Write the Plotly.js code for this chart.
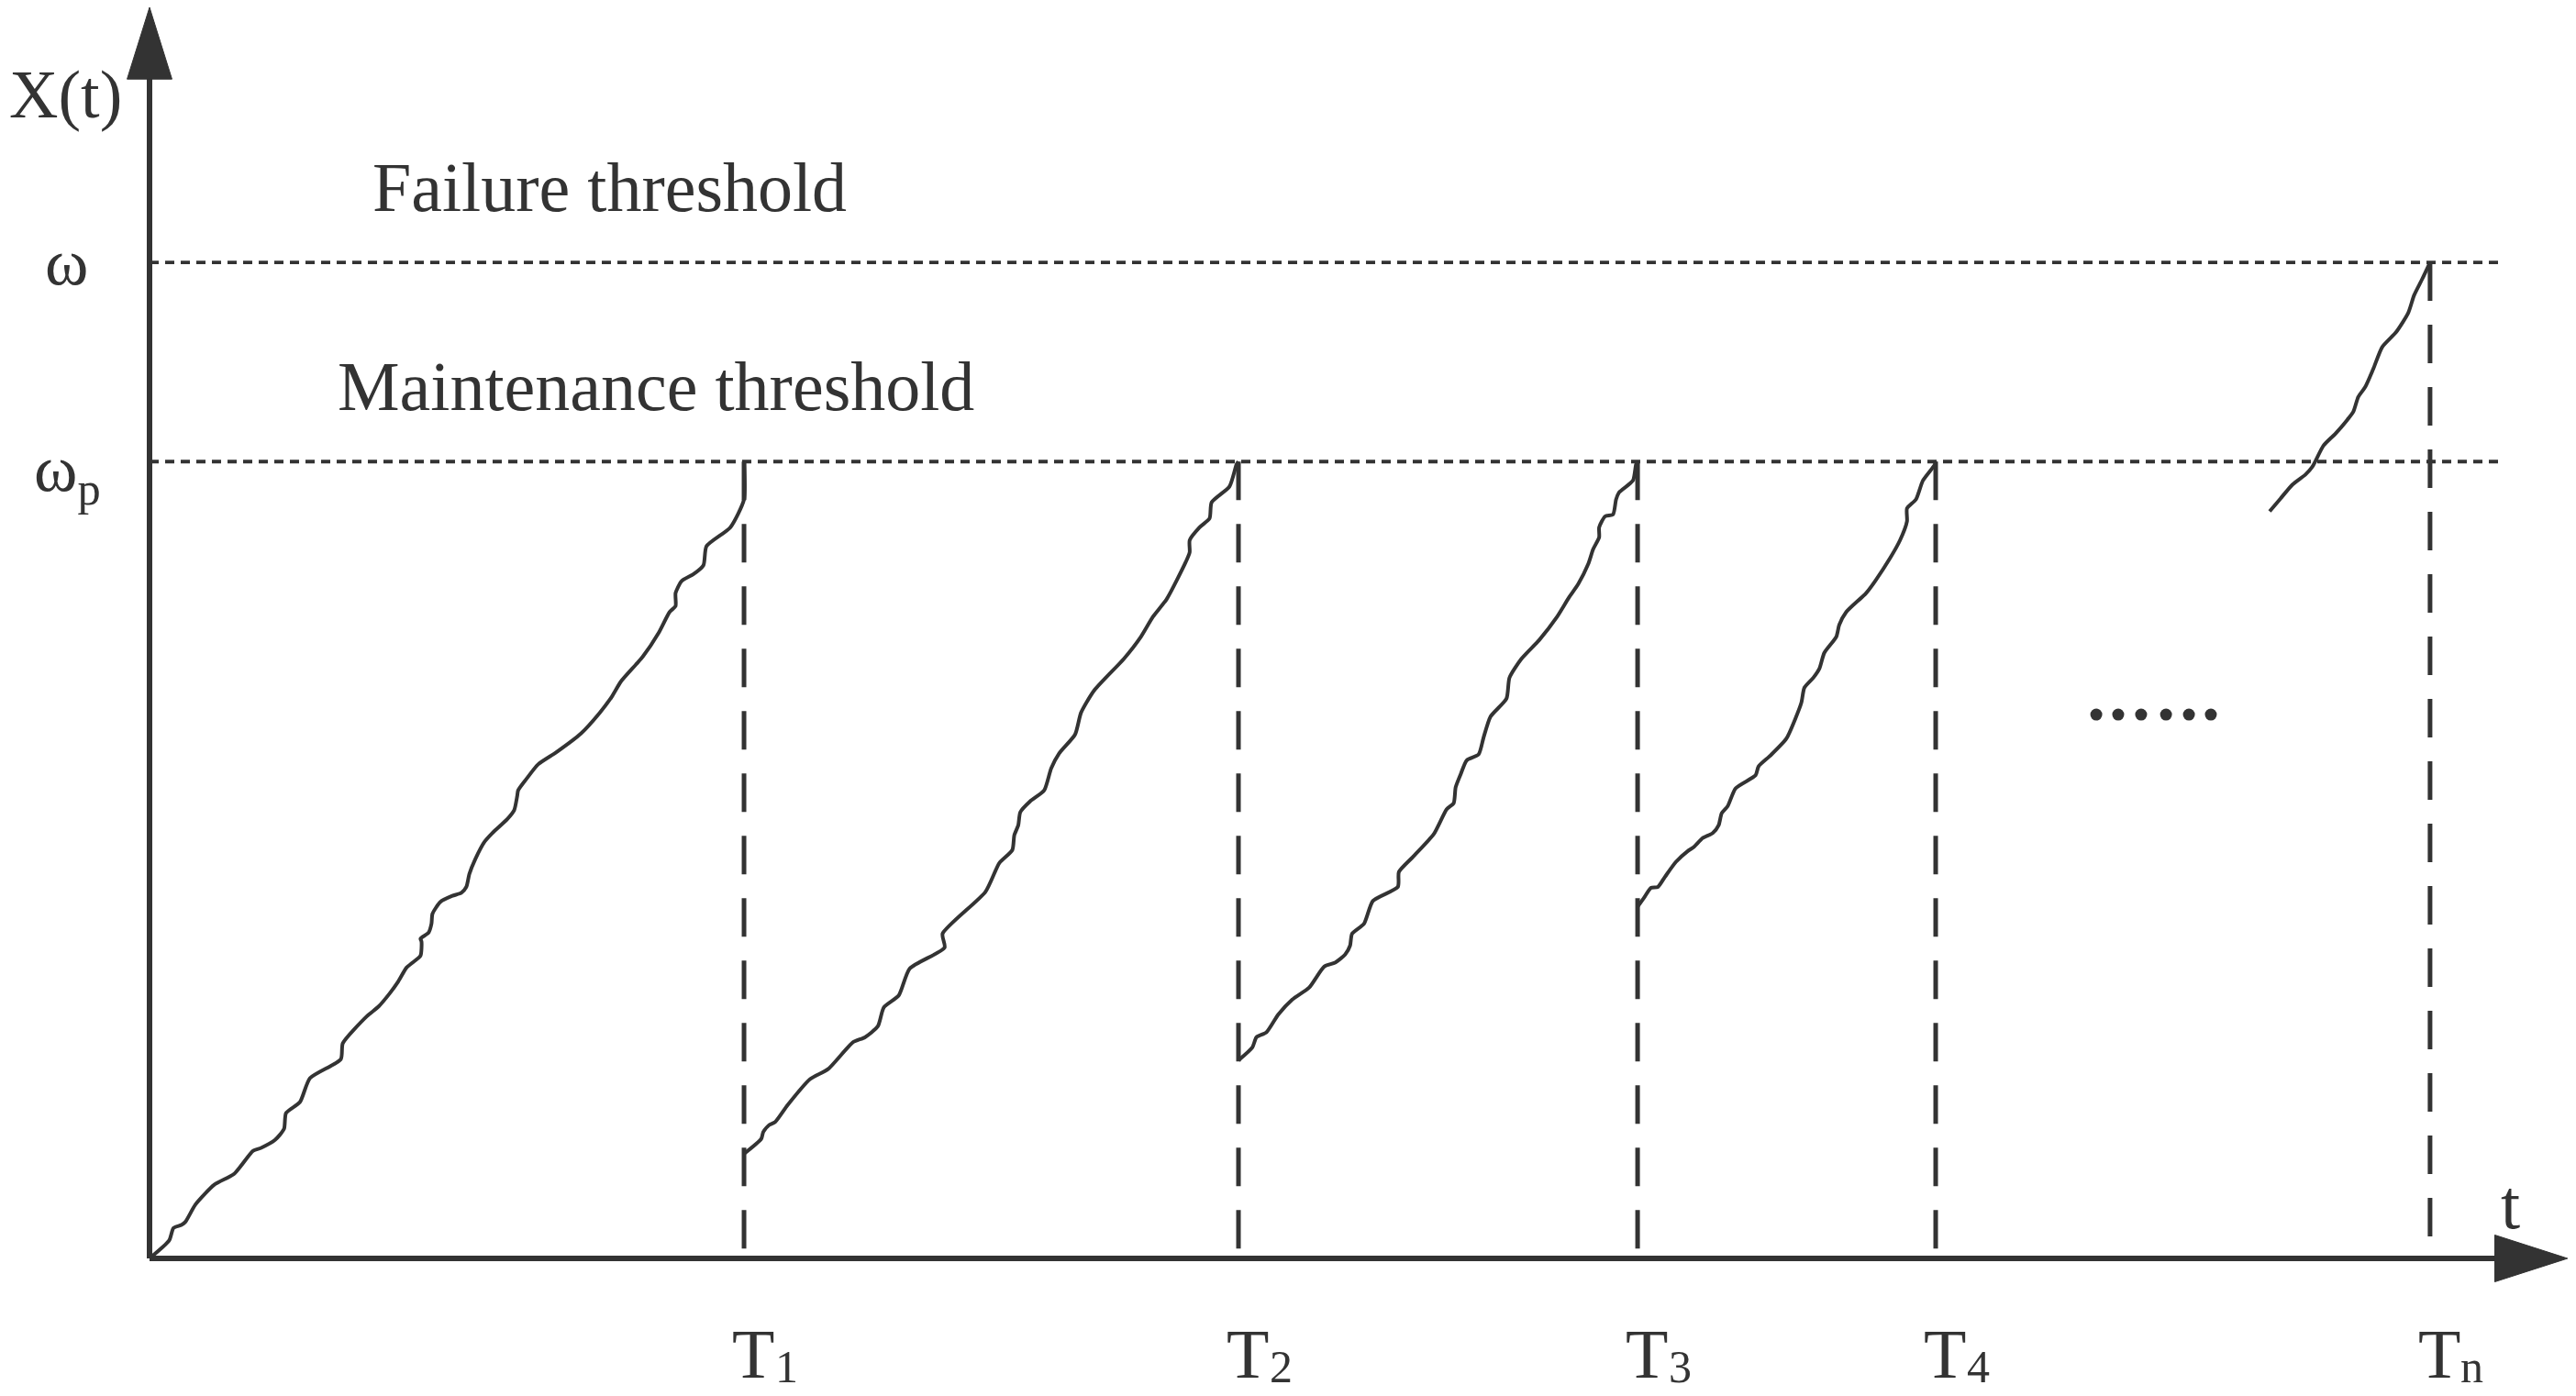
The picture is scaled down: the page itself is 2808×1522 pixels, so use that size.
<!DOCTYPE html>
<html>
<head>
<meta charset="utf-8">
<script src="https://cdn.plot.ly/plotly-3.0.1.min.js"></script>
<style>html,body{margin:0;padding:0;background:#fff;}#chart{width:2808px;height:1522px;}</style>
</head>
<body>
<div id="chart"></div>
<script>
// ---- data (t in arbitrary time units, X(t) in % of failure threshold) ----
var omega = 100;          // failure threshold
var omegaP = 80;          // maintenance threshold
var maintTimes = [59.67, 109.3, 149.36, 179.28];   // T1..T4
var failTime = 228.9;                              // Tn
var tickLabelMain = 'T';
var tickSubscripts = ['1', '2', '3', '4', 'n'];

var t1 = [0, 1.97, 2.4, 3.2, 3.6, 4.6, 6.5, 8.5, 10.4, 11.2, 12.6, 13.5, 13.7, 15.1, 16.1, 19.2, 19.4, 21.8, 23.0, 24.1, 24.9, 25.8, 26.4, 27.2, 27.3, 27.2, 28.0, 28.3, 28.4, 29.2, 30.4, 31.3, 31.8, 32.1, 32.7, 33.6, 34.4, 35.9, 36.6, 36.9, 37.0, 37.8, 39.0, 40.8, 43.3, 45.2, 46.4, 47.3, 48.8, 49.5, 51.1, 52.2, 52.8, 52.8, 53.4, 54.6, 55.6, 55.9, 58.3, 59.67, 59.67];
var x1 = [0, 1.8, 3.05, 3.36, 3.67, 5.4, 7.4, 8.5, 10.8, 11.1, 11.9, 13.0, 14.6, 15.7, 18.1, 20.0, 21.6, 24.3, 25.3, 26.6, 27.7, 29.2, 29.7, 30.4, 31.8, 32.1, 32.7, 33.6, 34.6, 35.8, 36.4, 36.7, 37.3, 38.6, 40.1, 41.8, 42.7, 44.1, 45.0, 46.4, 47.0, 48.1, 49.6, 50.8, 52.7, 54.8, 56.4, 57.9, 59.6, 60.4, 62.8, 64.9, 65.5, 66.8, 68.0, 68.7, 69.6, 71.5, 73.4, 76.2, 80];

var t2 = [59.67, 61.4, 61.6, 62.2, 62.8, 64.05, 66.3, 68.1, 70.6, 71.8, 73.1, 73.7, 75.2, 76.3, 79.8, 79.6, 83.9, 85.3, 86.6, 86.8, 87.2, 87.4, 88.4, 89.8, 90.5, 91.3, 92.9, 93.5, 94.8, 97.8, 99.5, 100.7, 102.1, 104.0, 104.4, 104.4, 105.4, 106.4, 106.6, 108.4, 109.1, 109.3];
var x2 = [10.5, 12.0, 12.7, 13.4, 13.7, 15.4, 18.0, 19.0, 21.7, 22.2, 23.3, 25.2, 26.4, 29.1, 31.2, 32.6, 36.8, 39.7, 41.0, 42.5, 43.5, 44.8, 45.9, 47.0, 49.2, 50.7, 52.6, 54.8, 57.0, 60.2, 62.4, 64.4, 66.2, 69.9, 70.9, 72.1, 73.4, 74.3, 75.9, 77.5, 79.7, 80];

var t3 = [109.3, 110.7, 111.1, 112.1, 113.3, 114.7, 116.4, 117.9, 119.0, 120.0, 120.5, 120.7, 121.9, 122.8, 125.3, 125.4, 126.8, 128.9, 130.2, 130.9, 131.1, 131.6, 132.2, 133.4, 133.9, 134.6, 136.2, 136.5, 137.7, 139.5, 141.2, 142.5, 143.4, 144.4, 144.9, 145.5, 145.5, 146.1, 146.9, 147.2, 147.5, 148.9, 149.2, 149.36];
var x3 = [19.9, 21.2, 22.2, 22.7, 24.5, 26.0, 27.2, 29.3, 29.7, 30.5, 31.4, 32.6, 33.6, 35.9, 37.3, 38.8, 40.3, 42.6, 45.1, 45.7, 47.3, 48.6, 50.0, 50.6, 52.3, 54.4, 56.2, 58.3, 60.2, 62.1, 64.3, 66.4, 67.7, 69.7, 71.2, 72.4, 73.4, 74.5, 74.7, 76.2, 76.9, 78.1, 79.7, 80];

var t4 = [149.36, 150.0, 150.7, 151.4, 152.1, 153.2, 154.4, 155.0, 155.9, 156.9, 157.5, 157.8, 158.4, 159.2, 161.2, 161.5, 162.7, 164.3, 165.2, 165.8, 166.1, 167.0, 167.6, 168.1, 169.3, 169.6, 170.3, 172.3, 173.2, 174.7, 175.7, 176.4, 176.4, 177.3, 178.0, 179.2, 179.28];
var x4 = [35.3, 36.2, 37.2, 37.3, 38.3, 39.8, 40.9, 41.3, 42.2, 42.7, 43.5, 44.7, 45.4, 47.2, 48.5, 49.4, 50.5, 52.2, 54.2, 55.8, 57.3, 58.3, 59.2, 60.8, 62.4, 63.6, 64.9, 66.8, 68.0, 70.3, 72.1, 74.0, 75.3, 76.2, 78.1, 79.7, 80];

var t5 = [212.8, 213.9, 215.1, 216.4, 217.1, 218.2, 219.4, 220.6, 221.2, 221.7, 222.4, 223.2, 224.1, 225.5, 226.7, 227.3, 228.1, 228.9];
var x5 = [75.0, 76.3, 77.7, 78.7, 79.5, 81.6, 82.8, 84.2, 85.0, 86.5, 87.5, 89.3, 91.5, 93.0, 94.9, 96.7, 98.3, 100];

var ellipsisT = [195.4, 197.6, 199.9, 202.4, 204.7, 206.9];
var ellipsisX = [54.6, 54.6, 54.6, 54.6, 54.6, 54.6];

// ---- drawing ----
var INK = '#333333';
var FONT = '"Liberation Serif", "Times New Roman", serif';
var tAxisEnd = 242.7, xAxisEnd = 125.6;      // arrow tips
var tArrowBase = 235.4, xArrowBase = 118.4;
var thrEnd = 236.3;

var traces = [];
function line(x, y, w, dash, shape) {
  traces.push({x: x, y: y, type: 'scatter', mode: 'lines', hoverinfo: 'skip', showlegend: false,
    line: {color: INK, width: w, dash: dash || 'solid', shape: shape || 'linear', smoothing: 0.6}});
}
// thresholds
line([0, thrEnd], [omega, omega], 3.8, '10px,7px');
line([0, thrEnd], [omegaP, omegaP], 3.8, '10px,7px');
// maintenance / failure instants (drawn top to bottom)
maintTimes.forEach(function (T) { line([T, T], [omegaP, 0], 5, '42px,26px'); });
line([failTime, failTime], [omega, 0], 5, '42px,26px');
// degradation paths
[[t1, x1], [t2, x2], [t3, x3], [t4, x4], [t5, x5]].forEach(function (p) { line(p[0], p[1], 4, 'solid', 'spline'); });
// ellipsis
traces.push({x: ellipsisT, y: ellipsisX, type: 'scatter', mode: 'markers', hoverinfo: 'skip', showlegend: false,
  marker: {color: INK, size: 13, symbol: 'circle'}});
// axes
line([0, tArrowBase + 0.5], [0, 0], 6);
line([0, 0], [0, xArrowBase + 0.5], 6);

var shapes = [
  {type: 'path', xref: 'x', yref: 'y', path: 'M ' + tArrowBase + ',-2.35 L ' + tAxisEnd + ',0 L ' + tArrowBase + ',2.35 Z',
   fillcolor: INK, line: {color: INK, width: 1}},
  {type: 'path', xref: 'x', yref: 'y', path: 'M -2.25,' + xArrowBase + ' L 0,' + xAxisEnd + ' L 2.25,' + xArrowBase + ' Z',
   fillcolor: INK, line: {color: INK, width: 1}}
];

var ann = [];
function label(text, x, y, size, xanchor, yanchor) {
  ann.push({text: text, x: x, y: y, xref: 'x', yref: 'y', showarrow: false, xanchor: xanchor || 'center', yanchor: yanchor || 'middle',
    font: {family: FONT, size: size, color: INK}, borderpad: 0});
}
label('X(t)', -8.4, 116.9, 74);
label('ω', -8.3, omega, 72);
label('ω<sub>p</sub>', -8.2, omegaP - 1.2, 72);
label('Failure threshold', 22.3, 107.6, 76, 'left');
label('Maintenance threshold', 18.8, 87.6, 76, 'left');
label('t', 237.0, 5.4, 76);
maintTimes.concat([failTime]).forEach(function (T, i) {
  label(tickLabelMain, T - 1.3, -9.6, 76, 'left');
  label(tickSubscripts[i], T + 3.0, -13.5, 50, 'left', 'bottom');
});

var layout = {
  width: 2808, height: 1522,
  margin: {l: 0, r: 0, t: 0, b: 0, pad: 0},
  paper_bgcolor: '#ffffff', plot_bgcolor: '#ffffff',
  xaxis: {range: [-15.009, 243.55], visible: false, fixedrange: true},
  yaxis: {range: [-13.812, 126.34], visible: false, fixedrange: true},
  shapes: shapes,
  annotations: ann,
  showlegend: false
};
Plotly.newPlot('chart', traces, layout, {staticPlot: true});
</script>
</body>
</html>
